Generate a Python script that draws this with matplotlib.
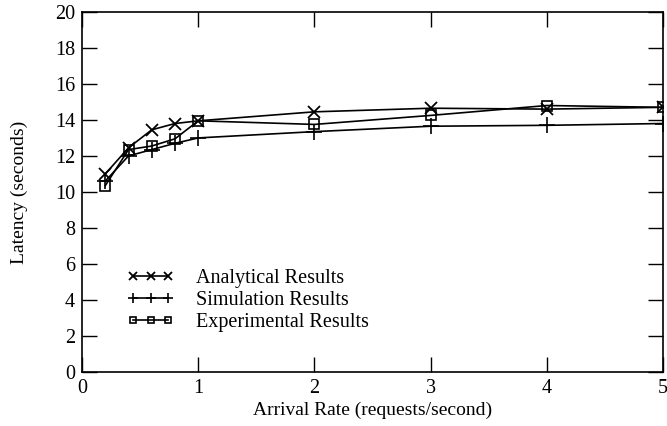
import matplotlib.pyplot as plt
import numpy as np

# arrival rate (requests/second)
rate = [0.2, 0.4, 0.6, 0.8, 1, 2, 3, 4, 5]
analytical = [11.0, 12.45, 13.45, 13.8, 13.95, 14.45, 14.65, 14.6, 14.7]
simulation = [10.6, 12.0, 12.35, 12.7, 13.0, 13.35, 13.65, 13.7, 13.8]
experimental = [10.35, 12.35, 12.55, 12.95, 13.95, 13.75, 14.25, 14.8, 14.7]

plt.rcParams['font.family'] = ['Liberation Serif', 'DejaVu Serif']

fig = plt.figure(figsize=(6.67, 4.26), dpi=100)
ax = fig.add_axes([0.123, 0.127, 0.871, 0.845])

ax.plot(rate, analytical, color='black', lw=1.2, marker='x', ms=9, mew=1.3,
        label='Analytical Results')
ax.plot(rate, simulation, color='black', lw=1.2, marker='+', ms=11, mew=1.2,
        label='Simulation Results')
ax.plot(rate, experimental, color='black', lw=1.2, marker='s', ms=7, mew=1.2,
        mfc='none', label='Experimental Results')

ax.set_xlim(0, 5)
ax.set_ylim(0, 20)
ax.set_xticks(range(0, 6))
ax.set_yticks(range(0, 21, 2))
ax.tick_params(direction='in', length=11, width=1, labelsize=14.5,
               top=True, right=True, pad=5)
for s in ax.spines.values():
    s.set_linewidth(1.2)

ax.set_xlabel('Arrival Rate (requests/second)', fontsize=14, labelpad=3)
ax.set_ylabel('Latency (seconds)', fontsize=14, labelpad=19)

ax.legend(loc='upper left', bbox_to_anchor=(0.078, 0.287), frameon=False,
          numpoints=3, handlelength=2.3, fontsize=14.5, labelspacing=0.15,
          handletextpad=1.1, borderpad=0, borderaxespad=0, markerscale=0.65)

fig.savefig('out.png', dpi=100)
